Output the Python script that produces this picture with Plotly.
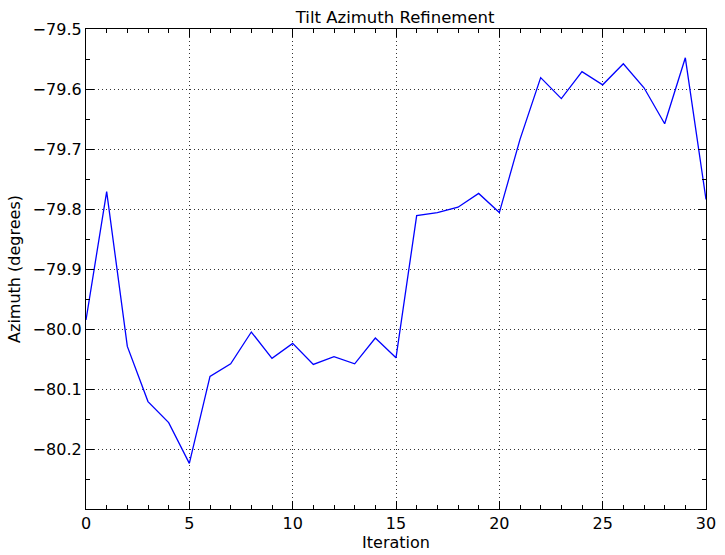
import plotly.graph_objects as go

iterations = list(range(31))
azimuth = [-79.985, -79.771, -80.029, -80.121, -80.156, -80.224, -80.079, -80.058,
           -80.005, -80.049, -80.024, -80.059, -80.046, -80.058, -80.015, -80.048,
           -79.811, -79.806, -79.797, -79.774, -79.806, -79.684, -79.581, -79.616,
           -79.571, -79.593, -79.558, -79.598, -79.658, -79.548, -79.784]
x_ticks = [0, 5, 10, 15, 20, 25, 30]
y_ticks = [-79.5, -79.6, -79.7, -79.8, -79.9, -80.0, -80.1, -80.2]

fig = go.Figure()
fig.add_trace(go.Scatter(x=iterations, y=azimuth, mode="lines",
                         line=dict(color="#0000ff", width=1.3), showlegend=False))

font = dict(family="DejaVu Sans", size=16, color="black")
axis_common = dict(
    showline=True, linecolor="black", linewidth=1.3, mirror="allticks",
    ticks="inside", ticklen=8, tickwidth=1, tickcolor="black",
    showgrid=True, gridcolor="#333333", gridwidth=1, griddash="1px,3px",
    zeroline=False, tickfont=font, automargin=False,
)
fig.update_xaxes(range=[0, 30], tickvals=x_ticks, ticktext=[str(v) for v in x_ticks],
                 minor=dict(ticks="inside", ticklen=4, tickcolor="black", dtick=1, showgrid=False),
                 title=dict(text="Iteration", font=font, standoff=4), **axis_common)
fig.update_yaxes(range=[-80.3, -79.5], tickvals=y_ticks,
                 ticktext=[f"{v:.1f}".replace("-", "\u2212") for v in y_ticks],
                 minor=dict(ticks="inside", ticklen=4, tickcolor="black", dtick=0.05,
                            tick0=-79.5, showgrid=False),
                 title=dict(text="Azimuth (degrees)", font=font, standoff=8), **axis_common)

fig.update_layout(
    width=725, height=555,
    margin=dict(l=86, r=19, t=29, b=46, autoexpand=False),
    paper_bgcolor="white", plot_bgcolor="white",
    title=dict(text="Tilt Azimuth Refinement", x=0.545, xanchor="center",
               y=1 - 17 / 555, yanchor="middle",
               font=dict(family="DejaVu Sans", size=16.5, color="black")),
)
fig.write_html("out.html", config={"displayModeBar": False},
               post_script="document.body.style.margin='0';document.body.style.overflow='hidden';")
